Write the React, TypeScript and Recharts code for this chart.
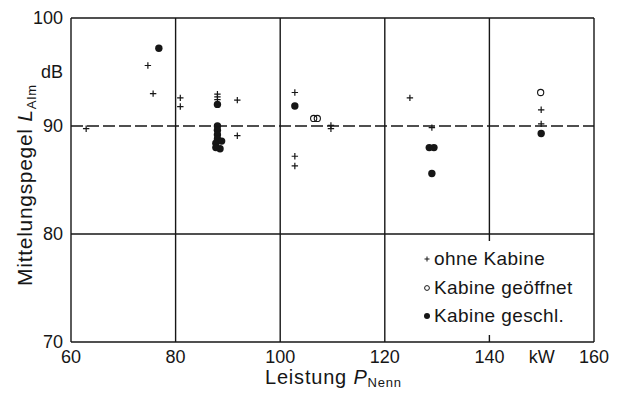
import {
  ScatterChart,
  Scatter,
  XAxis,
  YAxis,
  CartesianGrid,
  ReferenceLine,
  Legend,
} from "recharts";

// rated power (kW) and mean level (dB) per measured machine
const ohneKabineP = [62.9, 74.7, 75.7, 80.9, 80.9, 88, 88, 88, 91.8, 91.8, 102.8, 102.8, 102.8, 109.7, 109.7, 124.8, 129.0, 149.9, 149.9];
const ohneKabineL = [89.75, 95.6, 93.0, 92.6, 91.8, 92.95, 92.7, 92.45, 92.4, 89.1, 93.1, 87.2, 86.3, 90.05, 89.75, 92.6, 89.85, 91.5, 90.2];

const offenP = [106.4, 107.1, 149.8];
const offenL = [90.7, 90.7, 93.1];

const geschlP = [76.8, 88, 88, 88, 88, 88, 87.7, 88.8, 87.7, 88.5, 102.8, 128.5, 129.4, 129.0, 149.9];
const geschlL = [97.2, 92.0, 90.0, 89.6, 89.2, 88.8, 88.4, 88.6, 88.0, 87.9, 91.85, 88.0, 88.0, 85.6, 89.3];

const xTicks = [60, 80, 100, 120, 140, 150, 160];
const yTicks = [70, 80, 90, 95, 100];
const xGrid = [60, 80, 100, 120, 140, 160];
const yGrid = [70, 80, 100];
const mittelwert = 90;

const legendItems = ["ohne Kabine", "Kabine geöffnet", "Kabine geschl."];

const toPoints = (p: number[], l: number[]) => p.map((x, i) => ({ x, y: l[i] }));

const INK = "#161616";
const FONT = "'Liberation Sans', Arial, sans-serif";

const Plus = ({ cx, cy }: any) => (
  <path d={`M${cx - 3.2},${cy}H${cx + 3.2}M${cx},${cy - 3.2}V${cy + 3.2}`} stroke={INK} strokeWidth={1.2} />
);
const OpenDot = ({ cx, cy }: any) => (
  <circle cx={cx} cy={cy} r={3.1} fill="none" stroke={INK} strokeWidth={1.1} />
);
const FullDot = ({ cx, cy }: any) => <circle cx={cx} cy={cy} r={3.7} fill={INK} />;

const legendMarks = [
  <svg width="8" height="8"><path d="M1.5,4H6.5M4,1.5V6.5" stroke={INK} strokeWidth={1} /></svg>,
  <svg width="8" height="8"><circle cx="4" cy="4" r="2.4" fill="none" stroke={INK} strokeWidth={1} /></svg>,
  <svg width="8" height="8"><circle cx="4" cy="4" r="3" fill={INK} /></svg>,
];

const LegendBox = () => (
  <div style={{ background: "#fff", padding: "4px 6px", fontFamily: FONT, fontSize: 19, letterSpacing: 0.4, color: INK }}>
    {legendItems.map((t, i) => (
      <div key={t} style={{ display: "flex", alignItems: "center", height: 28.5 }}>
        <span style={{ width: 11, display: "inline-flex" }}>{legendMarks[i]}</span>
        <span>{t}</span>
      </div>
    ))}
  </div>
);

export default function App() {
  const tickStyle = { fill: INK, fontSize: 18, fontFamily: FONT };

  return (
    <div style={{ position: "fixed", left: 0, top: 0, width: 622, height: 393, background: "#fff" }}>
      <ScatterChart width={622} height={393} margin={{ top: 18, right: 28, bottom: 0, left: 0 }}>
        <CartesianGrid horizontalValues={yGrid} verticalValues={xGrid} stroke={INK} strokeWidth={1.4} />
        <XAxis
          type="number"
          dataKey="x"
          domain={[60, 160]}
          ticks={xTicks}
          tickFormatter={(v: number) => (v === 150 ? "kW" : String(v))}
          axisLine={false}
          tickLine={false}
          tickSize={0}
          tickMargin={8}
          height={51}
          tick={tickStyle}
          interval={0}
        />
        <YAxis
          type="number"
          dataKey="y"
          domain={[70, 100]}
          ticks={yTicks}
          tickFormatter={(v: number) => (v === 95 ? "dB" : String(v))}
          axisLine={false}
          tickLine={false}
          tickSize={0}
          tickMargin={8}
          width={71}
          tick={tickStyle}
          interval={0}
        />
        <ReferenceLine y={mittelwert} stroke={INK} strokeWidth={1.4} strokeDasharray="12 4" />
        <Scatter data={toPoints(ohneKabineP, ohneKabineL)} shape={Plus} isAnimationActive={false} />
        <Scatter data={toPoints(offenP, offenL)} shape={OpenDot} isAnimationActive={false} />
        <Scatter data={toPoints(geschlP, geschlL)} shape={FullDot} isAnimationActive={false} />
        <Legend
          layout="vertical"
          align="center"
          verticalAlign="middle"
          content={LegendBox}
          wrapperStyle={{ left: 417, top: 241, width: 172 }}
        />
      </ScatterChart>

      {/* axis titles */}
      <div
        style={{
          position: "absolute",
          left: 25,
          top: 185,
          transform: "translate(-50%, -50%) rotate(-90deg)",
          whiteSpace: "nowrap",
          fontFamily: FONT,
          fontSize: 21,
          letterSpacing: 0.7,
          color: INK,
        }}
      >
        Mittelungspegel <i>L</i>
        <span style={{ fontSize: 13, position: "relative", top: 4 }}>AIm</span>
      </div>
      <div
        style={{
          position: "absolute",
          left: 265,
          top: 366,
          lineHeight: "22px",
          whiteSpace: "nowrap",
          fontFamily: FONT,
          fontSize: 20,
          letterSpacing: 0.8,
          color: INK,
        }}
      >
        Leistung <i>P</i>
        <span style={{ fontSize: 13, position: "relative", top: 3 }}>Nenn</span>
      </div>
    </div>
  );
}
